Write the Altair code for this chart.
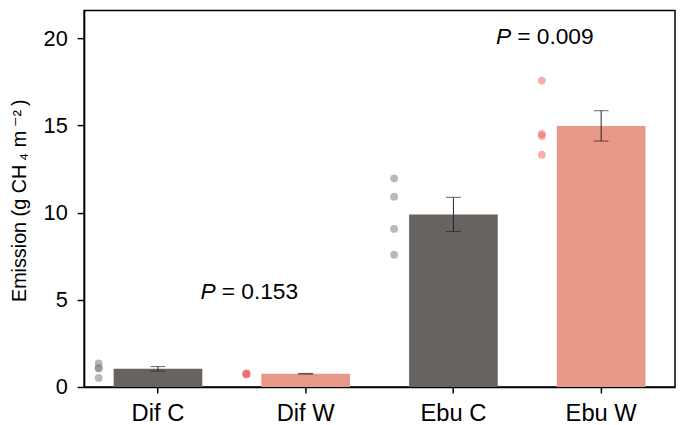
import altair as alt
import pandas as pd

# ---- data ----
categories = ["Dif C", "Dif W", "Ebu C", "Ebu W"]
groups = ["C", "W", "C", "W"]
means = [1.04, 0.76, 9.90, 14.98]
errors = [0.13, 0.02, 0.98, 0.87]

point_categories = ["Dif C"] * 4 + ["Dif W"] * 4 + ["Ebu C"] * 4 + ["Ebu W"] * 4
point_groups = ["C"] * 4 + ["W"] * 4 + ["C"] * 4 + ["W"] * 4
point_values = [1.36, 1.10, 1.06, 0.52,
                0.72, 0.74, 0.76, 0.78,
                11.97, 10.92, 9.07, 7.59,
                17.58, 14.52, 14.40, 13.33]

annot_categories = ["Dif W", "Ebu W"]
annot_y = [5.45, 20.07]
annot_p = ["P", "P"]
annot_rest = ["= 0.153", "= 0.009"]

bar_colors = ["#676361", "#E89886"]
dot_colors = ["#808080", "#EE6A6A"]

bars_df = pd.DataFrame({
    "cat": categories, "grp": groups, "mean": means,
    "lo": [m - e for m, e in zip(means, errors)],
    "hi": [m + e for m, e in zip(means, errors)],
})
pts_df = pd.DataFrame({"cat": point_categories, "grp": point_groups, "val": point_values})
ann_df = pd.DataFrame({"cat": annot_categories, "y": annot_y, "p": annot_p, "rest": annot_rest})

FONT = "Liberation Sans"
TFONT = "Liberation Sans, DejaVu Sans"

x_enc = alt.X("cat:N", sort=categories,
              scale=alt.Scale(paddingInner=0.4, paddingOuter=0.2),
              axis=alt.Axis(title=None, labelAngle=0, labelFontSize=24, labelFont=FONT,
                            labelColor="black", tickColor="black", domainColor="black",
                            tickSize=6, tickWidth=1.5, domainWidth=1.5, labelPadding=9))
y_scale = alt.Scale(domain=[0, 21.6], nice=False)
y_axis = alt.Axis(title="Emission (g CH\u2009\u2084 m\u2009\u207b\u00b2\u2009)",
                  values=[0, 5, 10, 15, 20],
                  grid=False, labelFontSize=22, labelFont=FONT, labelColor="black",
                  titleFont=TFONT, titleFontSize=20, titleFontWeight="normal",
                  titleColor="black", titleX=-59, titleY=192, titleBaseline="alphabetic",
                  tickColor="black", tickSize=7,
                  tickWidth=1.5, domainColor="black", domainWidth=1.5, labelPadding=10)

base = alt.Chart(bars_df)

bars = base.mark_bar().encode(
    x=x_enc,
    y=alt.Y("mean:Q", scale=y_scale, axis=y_axis),
    color=alt.Color("grp:N", scale=alt.Scale(domain=["C", "W"], range=bar_colors), legend=None),
)

err = base.mark_rule(color="#222222", strokeWidth=1).encode(
    x=alt.X("cat:N", sort=categories), y="lo:Q", y2="hi:Q")
cap_lo = base.mark_tick(color="#222222", thickness=1, size=15).encode(
    x=alt.X("cat:N", sort=categories), y="lo:Q")
cap_hi = base.mark_tick(color="#222222", thickness=1, size=15).encode(
    x=alt.X("cat:N", sort=categories), y="hi:Q")

dots = alt.Chart(pts_df).mark_circle(size=62, opacity=0.55, xOffset=-60).encode(
    x=alt.X("cat:N", sort=categories),
    y="val:Q",
    color=alt.Color("grp:N", scale=alt.Scale(domain=["C", "W"], range=dot_colors), legend=None),
)

ann_p = alt.Chart(ann_df).mark_text(align="right", baseline="middle", dx=-91,
                                    fontSize=23, font=FONT, fontStyle="italic",
                                    color="black").encode(
    x=alt.X("cat:N", sort=categories), y="y:Q", text="p:N")
ann_rest = alt.Chart(ann_df).mark_text(align="left", baseline="middle", dx=-85,
                                       fontSize=23, font=FONT, color="black").encode(
    x=alt.X("cat:N", sort=categories), y="y:Q", text="rest:N")

chart = alt.layer(bars, err, cap_lo, cap_hi, dots, ann_p, ann_rest).resolve_scale(
    color="independent"
).properties(
    width=598, height=381,
    autosize=alt.AutoSizeParams(type="none"),
    padding={"left": 77, "top": 0, "right": 2, "bottom": 40},
).configure_view(stroke="black", strokeWidth=1.5)

chart.save("out.html", embed_options={"renderer": "svg", "actions": False})
